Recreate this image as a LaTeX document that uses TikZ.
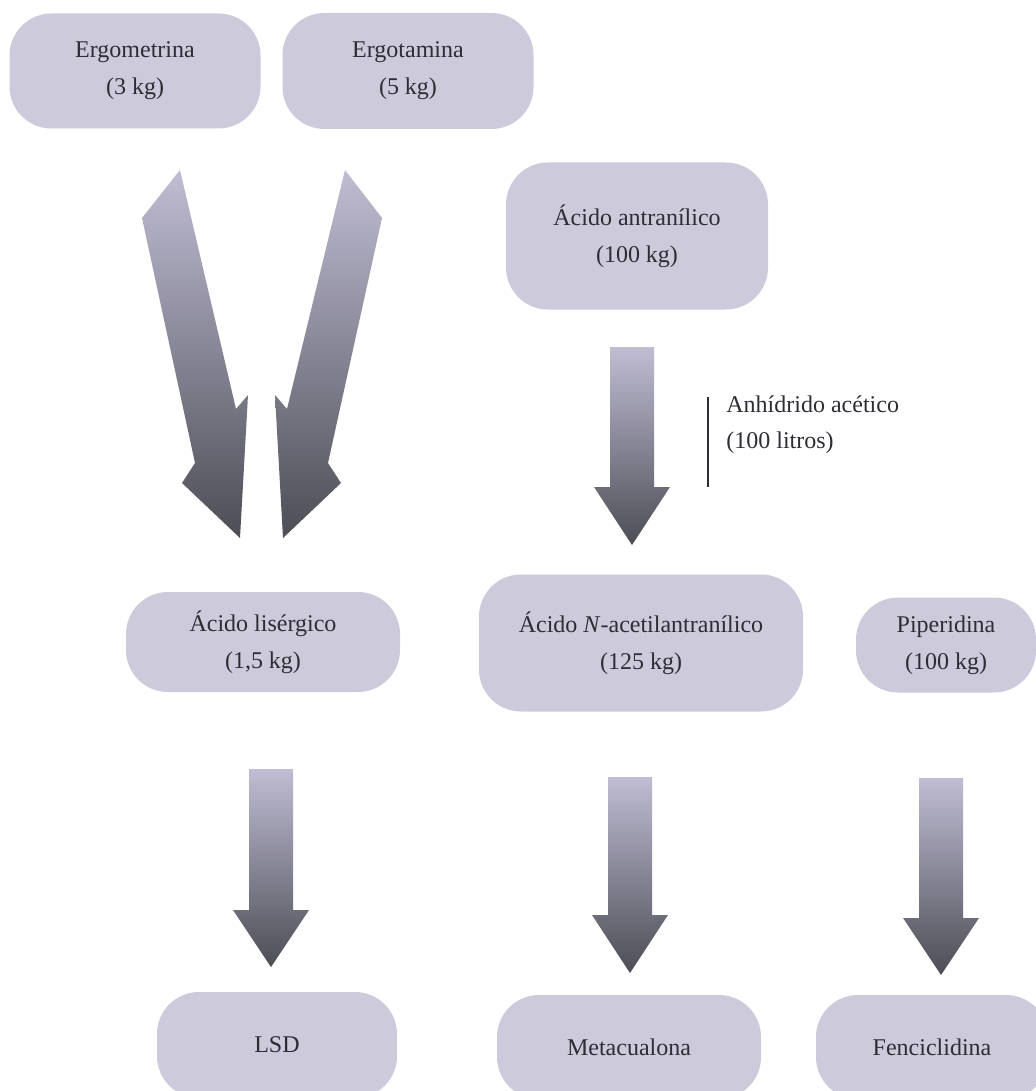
\documentclass[tikz,border=0pt]{standalone}
\usepackage{fontspec}
\setmainfont{Liberation Serif}
\usepackage{tikz}
\definecolor{cajafondo}{RGB}{205,202,220}
\definecolor{cajatexto}{RGB}{45,45,52}
\definecolor{flechaclara}{RGB}{192,189,212}
\definecolor{flechaoscura}{RGB}{76,77,85}

\tikzset{
  compuesto/.style={rectangle, rounded corners=21pt, fill=cajafondo, text=cajatexto,
    align=center, inner sep=0pt, font=\fontsize{12}{18.5}\selectfont},
  flecha/.style={top color=flechaclara, bottom color=flechaoscura, draw=none}
}

\begin{document}
\begin{tikzpicture}[x=0.5pt,y=-0.5pt]
        \useasboundingbox (0,0) rectangle (1036,1091);
        % precursores
        \node[compuesto,minimum width=125.5pt,minimum height=57.5pt] (ergometrina) at (135,71) {Ergometrina\\(3 kg)};
        \node[compuesto,minimum width=125.5pt,minimum height=58pt] (ergotamina) at (408,71) {Ergotamina\\(5 kg)};
        \node[compuesto,minimum width=131pt,minimum height=73.5pt] (antranilico) at (637,236) {Ácido antranílico\\(100 kg)};
        % intermedios
        \node[compuesto,minimum width=137pt,minimum height=50pt] (lisergico) at (263,642) {Ácido lisérgico\\(1,5 kg)};
        \node[compuesto,minimum width=162pt,minimum height=68.5pt] (acetil) at (641,643) {Ácido \textit{N}-acetilantranílico\\(125 kg)};
        \node[compuesto,minimum width=90pt,minimum height=47.5pt] (piperidina) at (946,645) {Piperidina\\(100 kg)};
        % productos
        \node[compuesto,minimum width=120pt,minimum height=53pt] (lsd) at (277,1045) {LSD};
        \node[compuesto,minimum width=132pt,minimum height=52pt] (metacualona) at (629,1047) {Metacualona};
        \node[compuesto,minimum width=116pt,minimum height=52pt] (fenciclidina) at (932,1047) {Fenciclidina};
        % reactivo
        \node[anchor=west,align=left,text=cajatexto,inner sep=0pt,font=\fontsize{12}{18}\selectfont] (anhidrido) at (726,425) {Anhídrido acético\\(100 litros)};
        \coordinate (barra-a) at (708,397);
        \coordinate (barra-b) at (708,487);
        \draw[cajatexto,line width=1pt] (barra-a) -- (barra-b);
        % flechas inclinadas
        \shade[flecha] (180,170) -- (236,409) -- (248,395) -- (240,538) -- (182,483) -- (195,463) -- (142,218) -- cycle;
        \shade[flecha] (345,170) -- (382,218) -- (328,463) -- (341,483) -- (283,538) -- (275,395) -- (287,409) -- cycle;
        % flechas rectas
        \foreach \cx/\ysup/\ycab/\ypun in {632/347/487/545, 271/769/910/967, 630/777/915/973, 941/778/918/975}{
          \shade[flecha] (\cx-22,\ysup) -- (\cx+22,\ysup) -- (\cx+22,\ycab) -- (\cx+38,\ycab)
            -- (\cx,\ypun) -- (\cx-38,\ycab) -- (\cx-22,\ycab) -- cycle;
        }
      \end{tikzpicture}
\end{document}
